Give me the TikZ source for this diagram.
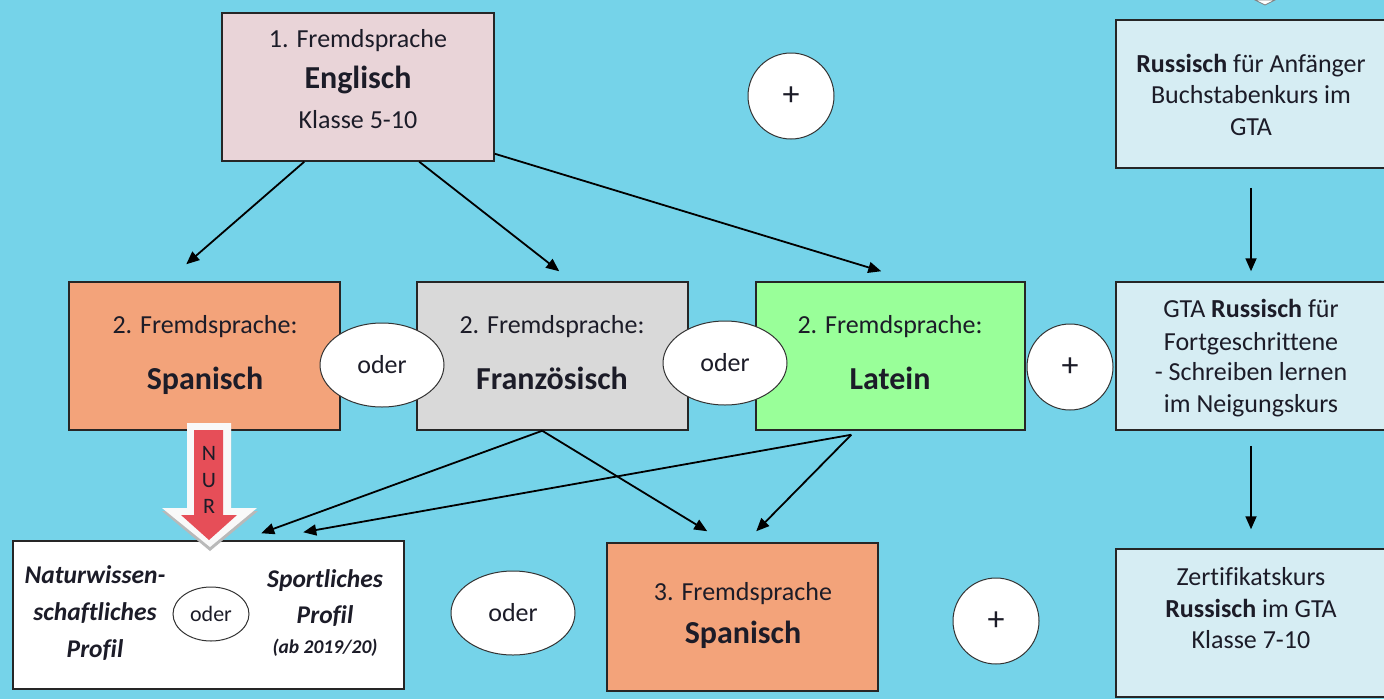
\documentclass[tikz,border=0pt]{standalone}
\usepackage{fontspec}
\setmainfont{Carlito}[Ligatures=NoCommon]
\usetikzlibrary{arrows.meta,calc,shapes.geometric}
\definecolor{bg}{RGB}{117,211,233}
\definecolor{txtc}{RGB}{28,28,40}
\definecolor{engc}{RGB}{233,212,216}
\definecolor{spc}{RGB}{243,163,122}
\definecolor{frc}{RGB}{217,217,217}
\definecolor{lac}{RGB}{153,255,153}
\definecolor{ruc}{RGB}{214,237,243}
\definecolor{nurred}{RGB}{230,78,88}
\begin{document}
\begin{tikzpicture}[x=1pt,y=-1pt,
  box/.style={draw=black!85,line width=1.5pt,inner sep=0pt,minimum height=148pt},
  txt/.style={anchor=base,inner sep=0pt,text=txtc,font=\fontsize{26}{31}\selectfont},
  btxt/.style={anchor=base,inner sep=0pt,text=txtc,font=\fontsize{32}{38}\selectfont\bfseries},
  ptxt/.style={anchor=base,inner sep=0pt,text=txtc,font=\fontsize{25.5}{30}\selectfont\bfseries\itshape},
  ovl/.style={ellipse,draw=black!80,fill=white,line width=1pt,inner sep=0pt,minimum width=124pt,minimum height=84pt,text=txtc,font=\fontsize{26}{31}\selectfont},
  plus/.style={circle,draw=black!80,fill=white,line width=1pt,inner sep=0pt,minimum size=86pt,text=txtc,font=\fontsize{34}{40}\selectfont},
  nurl/.style={anchor=base,inner sep=0pt,text=txtc,font=\fontsize{22}{26}\selectfont},
  arr/.style={-{Triangle[length=13pt,width=11pt]},line width=1.8pt,black}]
\useasboundingbox (0,0) rectangle (1384,699);
\fill[bg] (0,0) rectangle (1384,699);

% top-right cut-off tip
\filldraw[fill=white,draw=gray,line width=0.8pt] (1255,0) -- (1275,0) -- (1265,5) -- cycle;

% boxes
\node[box,fill=engc,minimum width=272pt] (eng) at (358,87) {};
\node[box,fill=spc,minimum width=271pt] (sp2) at (204.5,356) {};
\node[box,fill=frc,minimum width=271pt] (fr2) at (552.5,356) {};
\node[box,fill=lac,minimum width=269pt] (la2) at (890.5,356) {};
\node[box,fill=ruc,minimum width=270pt] (ru1) at (1251,94) {};
\node[box,fill=ruc,minimum width=270pt] (ru2) at (1251,356) {};
\node[box,fill=ruc,minimum width=270pt] (ru3) at (1251,623) {};
\node[box,fill=white,minimum width=391pt] (prof) at (208.5,615) {};
\node[box,fill=spc,minimum width=271pt] (sp3) at (742.5,617) {};

% texts
\node[txt] (t1) at (358,47) {1. Fremdsprache};
\node[btxt] (t2) at (358,88) {Englisch};
\node[txt] (t3) at (358,128) {Klasse 5-10};

\node[txt] (s1) at (205,333) {2. Fremdsprache:};
\node[btxt] (s2) at (205,389) {Spanisch};
\node[txt] (f1) at (552,333) {2. Fremdsprache:};
\node[btxt] (f2) at (552,389) {Französisch};
\node[txt] (l1) at (890,333) {2. Fremdsprache:};
\node[btxt] (l2) at (890,389) {Latein};

\node[txt] (r11) at (1251,72) {\textbf{Russisch} für Anfänger};
\node[txt] (r12) at (1251,103) {Buchstabenkurs im};
\node[txt] (r13) at (1251,135) {GTA};
\node[txt] (r21) at (1251,317) {GTA \textbf{Russisch} für};
\node[txt] (r22) at (1251,350) {Fortgeschrittene};
\node[txt] (r23) at (1251,380) {- Schreiben lernen};
\node[txt] (r24) at (1251,412) {im Neigungskurs};
\node[txt] (r31) at (1251,585) {Zertifikatskurs};
\node[txt] (r32) at (1251,617) {\textbf{Russisch} im GTA};
\node[txt] (r33) at (1251,648) {Klasse 7-10};

\node[txt] (d1) at (743,600) {3. Fremdsprache};
\node[btxt] (d2) at (743,643) {Spanisch};

\node[ptxt] (p1) at (95,583) {Naturwissen-};
\node[ptxt] (p2) at (95,620) {schaftliches};
\node[ptxt] (p3) at (95,657) {Profil};
\node[ptxt] (p4) at (325,587) {Sportliches};
\node[ptxt] (p5) at (325,623) {Profil};
\node[anchor=base,inner sep=0pt,text=txtc,font=\fontsize{19.5}{23}\selectfont\bfseries\itshape] (p6) at (325,653) {(ab 2019/20)};
\node[ellipse,draw=black!80,fill=white,line width=1pt,inner sep=0pt,minimum width=76pt,minimum height=54pt,text=txtc,font=\fontsize{22}{26}\selectfont] (o3) at (211,614) {oder};

% oder ellipses and plus circles
\node[ovl] (o1) at (382,365) {oder};
\node[ovl] (o2) at (725,363) {oder};
\node[ovl] (o4) at (513,613) {oder};
\node[plus] (c1) at (791,96) {+};
\node[plus] (c2) at (1070,367) {+};
\node[plus] (c3) at (996,621) {+};

% NUR block arrow
\fill[gray!55] (187,426) -- (231,426) -- (231,511) -- (258,511) -- (210,551) -- (162,511) -- (187,511) -- cycle;
\fill[white!95!gray] (187,423) -- (231,423) -- (231,508) -- (257,508) -- (210,547) -- (162,508) -- (187,508) -- cycle;
\fill[nurred] (194,430) -- (223,430) -- (223,515) -- (237,515) -- (209,540) -- (181,515) -- (194,515) -- cycle;
\node[nurl] (n1) at (209,460) {N};
\node[nurl] (n2) at (209,487) {U};
\node[nurl] (n3) at (209,513) {R};

% connectors
\draw[arr] ($(eng.south west)+(83,0)$) -- ($(sp2.north west)+(118,-17)$);
\draw[arr] ($(eng.south west)+(198,0)$) -- ($(fr2.north west)+(143,-10)$);
\draw[arr] ($(eng.south east)+(0,-8)$) -- ($(la2.north west)+(126,-10)$);
\draw[arr] ($(ru1.south)+(0,19)$) -- ($(ru2.north)+(0,-10)$);
\draw[arr] ($(ru2.south)+(0,15)$) -- ($(ru3.north)+(0,-19)$);
\draw[arr] ($(fr2.south west)+(126,0)$) -- ($(prof.north west)+(249,-7)$);
\draw[arr] ($(fr2.south west)+(126,0)$) -- ($(sp3.north west)+(101,-11)$);
\draw[arr] ($(la2.south west)+(96,4)$) -- ($(prof.north west)+(291,-8)$);
\draw[arr] ($(la2.south west)+(96,4)$) -- ($(sp3.north west)+(150,-11)$);
\end{tikzpicture}
\end{document}
